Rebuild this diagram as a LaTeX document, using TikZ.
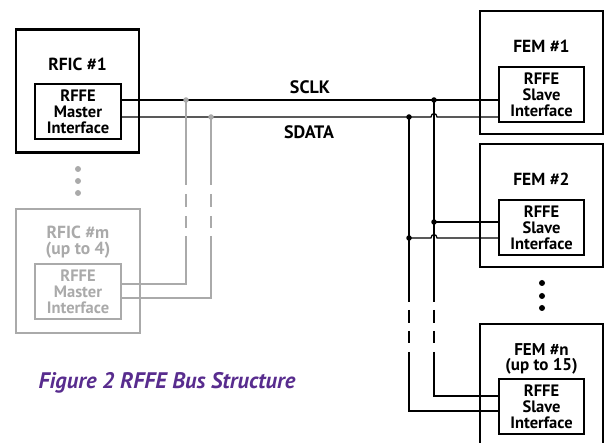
\documentclass[tikz,border=0pt]{standalone}
\usepackage{fontspec}
\setmainfont{PT Sans}
\definecolor{lg}{RGB}{170,170,170}
\definecolor{purp}{RGB}{88,44,142}
\begin{document}
\begin{tikzpicture}[x=1pt,y=-1pt,
  outerbox/.style={draw,line width=2.8pt,minimum width=123pt,minimum height=123pt,inner sep=0pt},
  innerbox/.style={draw,line width=1.2pt,minimum width=86pt,minimum height=55pt,inner sep=0pt,align=center,
     font=\fontsize{16.5}{16.2}\selectfont\bfseries},
  boxtitle/.style={font=\fontsize{17.5}{15}\selectfont\bfseries,align=center,inner sep=0pt},
  buslabel/.style={font=\fontsize{18}{16}\selectfont\bfseries,inner sep=0pt},
  bus/.style={line width=1.2pt},
  dot/.style={circle,fill,inner sep=0pt,minimum size=5.5pt},
  edot/.style={circle,fill,inner sep=0pt,minimum size=6pt},
  blkdash/.style={dash pattern=on #1 off 8pt on 13pt off 8pt on 12pt off 9pt on 600pt},
  grydash/.style={dash pattern=on #1 off 9pt on 13pt off 9pt on 12pt off 8pt on 600pt},
  ]
\useasboundingbox (0,0) rectangle (606,443);

% RFIC #1
\node[outerbox] (rfic1) at (77.5,91) {};
\node[boxtitle] (rfic1t) at (77.5,64) {RFIC \#1};
\node[innerbox] (m1) at (78,111.5) {RFFE\\Master\\Interface};

% gray ellipsis
\node[edot,fill=lg] (gd1) at (78,169) {};
\node[edot,fill=lg] (gd2) at (78,181) {};
\node[edot,fill=lg] (gd3) at (78,193) {};

% RFIC #m
\node[outerbox,draw=lg,minimum width=124pt,minimum height=124pt] (rficm) at (78,271) {};
\node[boxtitle,text=lg,font=\fontsize{17.5}{16}\selectfont\bfseries] (rficmt) at (78,242) {RFIC \#m\\(up to 4)};
\node[innerbox,draw=lg,text=lg] (mm) at (78,291.5) {RFFE\\Master\\Interface};

% FEM #1
\node[outerbox] (fem1) at (541.5,72.5) {};
\node[boxtitle] (fem1t) at (541.5,46.5) {FEM \#1};
\node[innerbox,minimum width=85pt] (s1) at (541.5,94.5) {RFFE\\Slave\\Interface};

% FEM #2
\node[outerbox] (fem2) at (541.5,205.5) {};
\node[boxtitle] (fem2t) at (541.5,179) {FEM \#2};
\node[innerbox,minimum width=85pt] (s2) at (541.5,227.5) {RFFE\\Slave\\Interface};

% black ellipsis
\node[edot] (bd1) at (542,283) {};
\node[edot] (bd2) at (542,296) {};
\node[edot] (bd3) at (542,308) {};

% FEM #n
\node[outerbox,minimum height=130pt] (femn) at (541.5,389) {};
\node[boxtitle,font=\fontsize{17}{15.5}\selectfont\bfseries] (femnt) at (541.5,359) {FEM \#n\\(up to 15)};
\node[innerbox,minimum width=85pt] (sn) at (541.5,406.5) {RFFE\\Slave\\Interface};

% bus rows
\coordinate (sclk) at (0,100);
\coordinate (sdata) at (0,117);

\node[buslabel] (sclkt) at (310,87.5) {SCLK};
\node[buslabel] (sdatat) at (309,132) {SDATA};

% main bus lines
\draw[bus] (m1.east |- sclk) -- (s1.west |- sclk);
\draw[bus] (m1.east |- sdata) -- (431,117) .. controls (431,112.5) and (437,112.5) .. (437,117) -- (s1.west |- sdata);

% gray taps
\node[dot,fill=lg] (g1) at (186,100) {};
\node[dot,fill=lg] (g2) at (211,117) {};
\draw[bus,draw=lg,grydash=85pt] (g1.center) -- (186,284) -- (mm.east |- 0,284);
\draw[bus,draw=lg,grydash=68pt] (g2.center) -- (211,298) -- (mm.east |- 0,298);

% black taps
\node[dot] (b1) at (434,100) {};
\node[dot] (b2) at (409,117) {};
\node[dot] (b3) at (434,222) {};
\node[dot] (b4) at (409,238) {};
\draw[bus,blkdash=202pt] (b1.center) -- (434,396) -- (sn.west |- 0,396);
\draw[bus,blkdash=185pt] (b2.center) -- (409,411) -- (sn.west |- 0,411);
\draw[bus] (b3.center) -- (s2.west |- b3);
\draw[bus] (b4.center) -- (431,238) .. controls (431,233.5) and (437,233.5) .. (437,238) -- (s2.west |- b4);

% caption
\node[font=\fontsize{22.5}{22}\selectfont\bfseries\itshape,text=purp,inner sep=0pt] (cap) at (167,383) {Figure 2 RFFE Bus Structure};
\end{tikzpicture}
\end{document}
